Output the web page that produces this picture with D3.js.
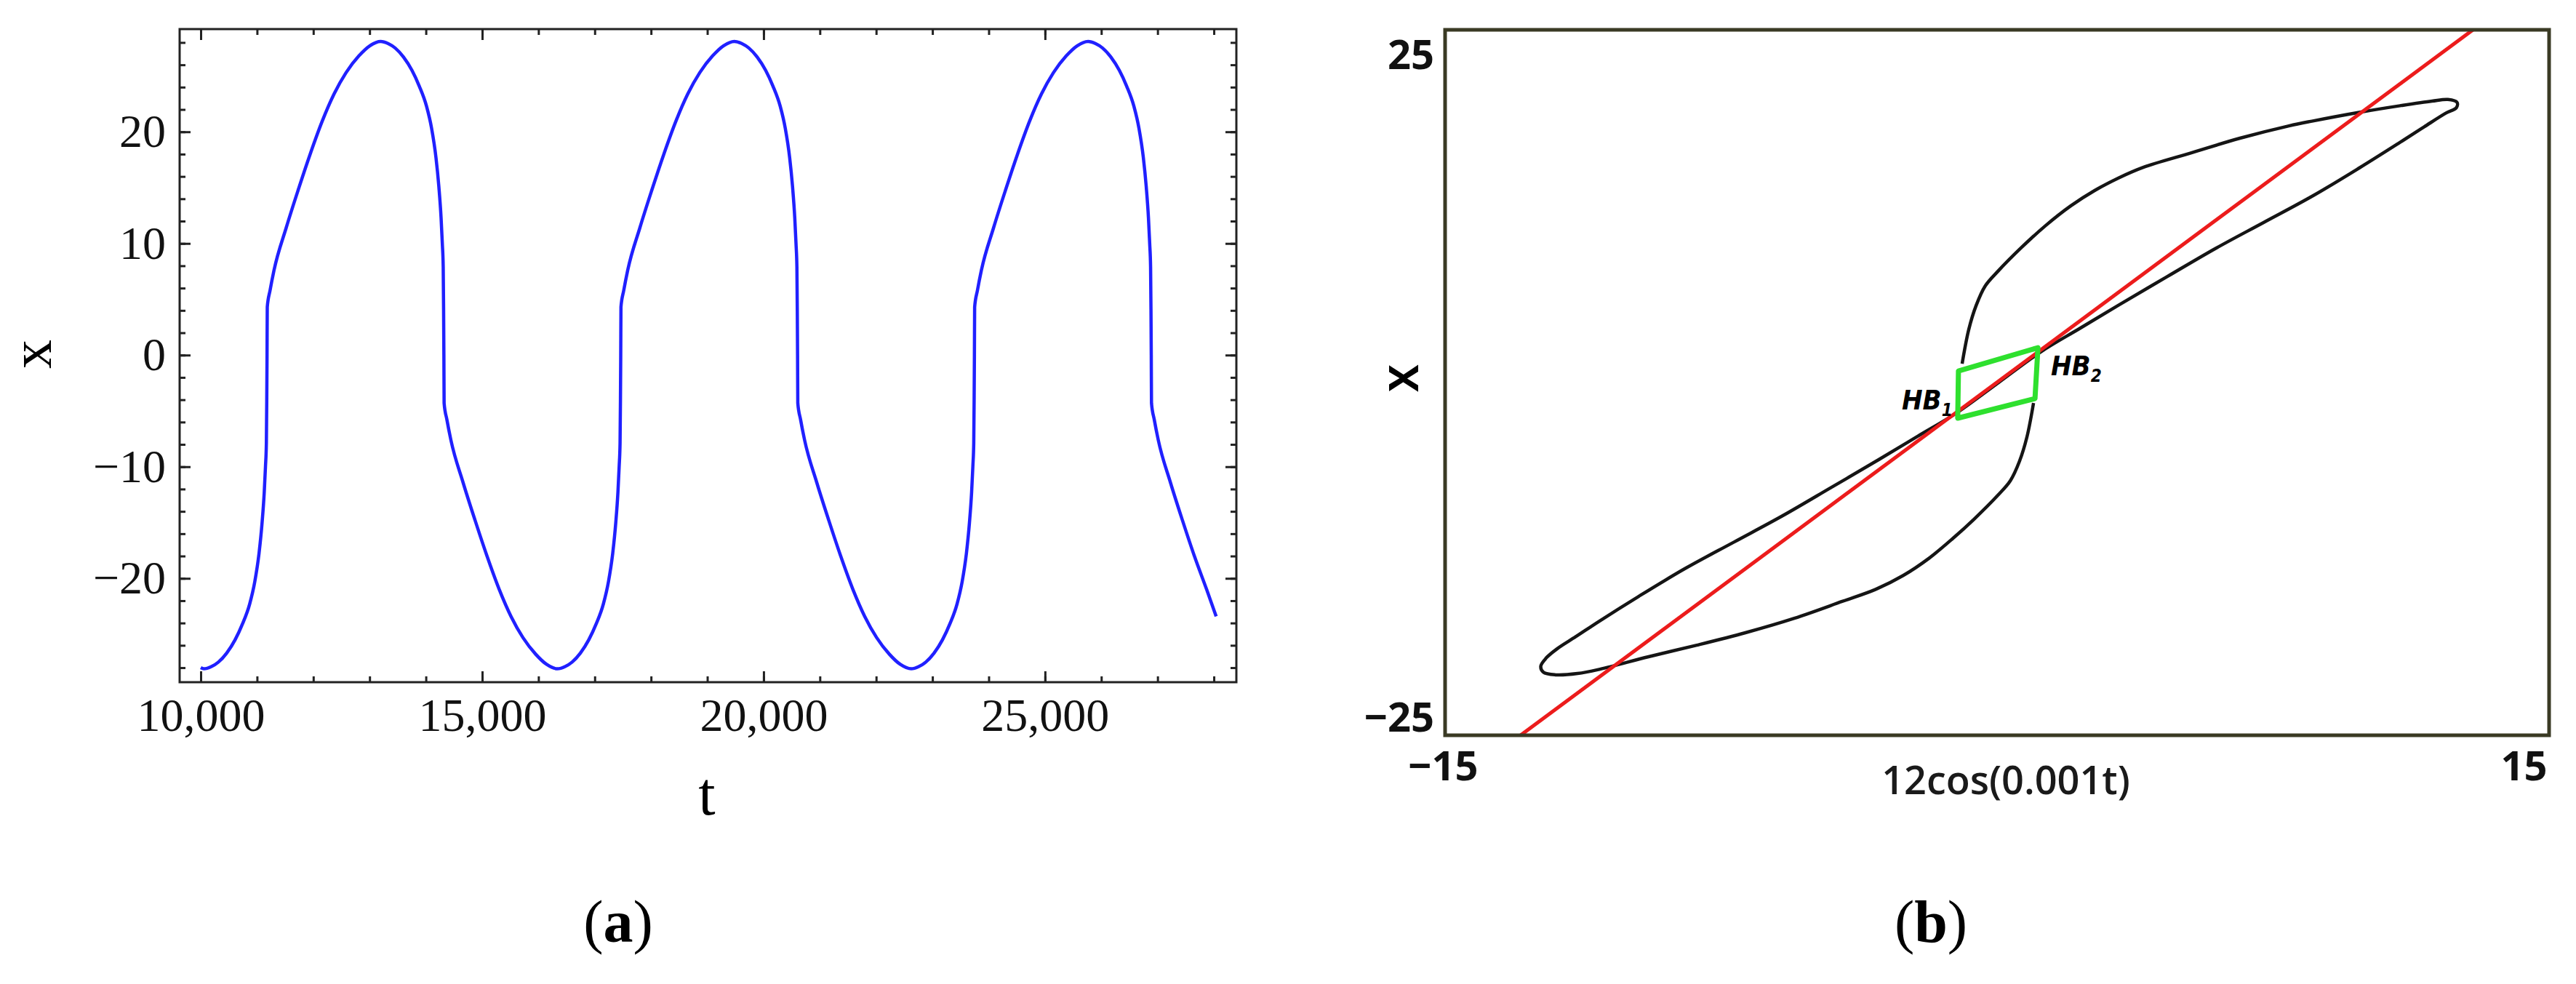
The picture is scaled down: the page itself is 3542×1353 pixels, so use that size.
<!DOCTYPE html>
<html>
<head>
<meta charset="utf-8">
<script src="https://cdn.jsdelivr.net/npm/d3@7"></script>
<style>
  body { margin: 0; background: #fff; }
  svg { display: block; }
</style>
</head>
<body>
<div id="chart"></div>
<script>

// panel (a): x against t
var timeT = [10000, 10055, 10190, 10314, 10460, 10611, 10740, 10869, 10960, 11037, 11090, 11128, 11150, 11166, 11173, 11178,
  11182, 11232, 11302, 11518, 11732, 11944, 12162, 12370, 12582, 12810, 13002, 13197, 13332, 13456, 13602, 13753, 13882, 14011, 14102, 14179, 14232, 14270, 14292, 14308, 14315, 14320,
  14324, 14374, 14444, 14660, 14874, 15086, 15304, 15512, 15724, 15952, 16144, 16339, 16474, 16598, 16744, 16895, 17024, 17153, 17244, 17321, 17374, 17412, 17434, 17450, 17457, 17462,
  17466, 17516, 17586, 17802, 18016, 18228, 18446, 18654, 18866, 19094, 19286, 19481, 19616, 19740, 19886, 20037, 20166, 20295, 20386, 20463, 20516, 20554, 20576, 20592, 20599, 20604,
  20608, 20658, 20728, 20944, 21158, 21370, 21588, 21796, 22008, 22236, 22428, 22623, 22758, 22882, 23028, 23179, 23308, 23437, 23528, 23605, 23658, 23696, 23718, 23734, 23741, 23746,
  23750, 23800, 23870, 24086, 24300, 24512, 24730, 24938, 25150, 25378, 25570, 25765, 25900, 26024, 26170, 26321, 26450, 26579, 26670, 26747, 26800, 26838, 26860, 26876, 26883, 26888,
  26892, 26942, 27012, 27228, 27442, 27654, 27872, 28041]
var timeX = [-28.0, -28.1, -27.9, -27.5, -26.7, -25.5, -24.1, -22.3, -20.3, -17.7, -15.0, -12.3, -10.0, -7.9, -4.0, 0.0,
  4.3, 5.8, 7.6, 11.4, 14.8, 18.0, 21.0, 23.4, 25.3, 26.8, 27.7, 28.1, 27.9, 27.5, 26.7, 25.5, 24.1, 22.3, 20.3, 17.7, 15.0, 12.3, 10.0, 7.9, 4.0, 0.0,
  -4.3, -5.8, -7.6, -11.4, -14.8, -18.0, -21.0, -23.4, -25.3, -26.8, -27.7, -28.1, -27.9, -27.5, -26.7, -25.5, -24.1, -22.3, -20.3, -17.7, -15.0, -12.3, -10.0, -7.9, -4.0, 0.0,
  4.3, 5.8, 7.6, 11.4, 14.8, 18.0, 21.0, 23.4, 25.3, 26.8, 27.7, 28.1, 27.9, 27.5, 26.7, 25.5, 24.1, 22.3, 20.3, 17.7, 15.0, 12.3, 10.0, 7.9, 4.0, 0.0,
  -4.3, -5.8, -7.6, -11.4, -14.8, -18.0, -21.0, -23.4, -25.3, -26.8, -27.7, -28.1, -27.9, -27.5, -26.7, -25.5, -24.1, -22.3, -20.3, -17.7, -15.0, -12.3, -10.0, -7.9, -4.0, 0.0,
  4.3, 5.8, 7.6, 11.4, 14.8, 18.0, 21.0, 23.4, 25.3, 26.8, 27.7, 28.1, 27.9, 27.5, 26.7, 25.5, 24.1, 22.3, 20.3, 17.7, 15.0, 12.3, 10.0, 7.9, 4.0, 0.0,
  -4.3, -5.8, -7.6, -11.4, -14.8, -18.0, -21.0, -23.4]
var tMajorTicks = [10000, 15000, 20000, 25000]
var xMajorTicks = [-20, -10, 0, 10, 20]

// panel (b): x against the forcing 12cos(0.001t)
// one pass: upper steep part -> upper lobe -> HB2 -> HB1 -> lower lobe -> lower steep part
var loopF = [-0.95, -0.77, -0.57, -0.32, 0.02, 0.67, 1.32, 2.00, 2.65, 3.30, 3.97, 5.28, 6.60, 7.93, 8.58, 9.84, 10.95, 11.82, 12.25, 12.50, 12.48,
  12.20, 11.60, 10.90, 9.84, 8.58, 7.25, 5.95, 4.62, 3.30, 2.25, 1.21, 0.05,
  -1.11, -2.15, -3.20, -4.52, -5.85, -7.15, -8.48, -9.74, -10.80, -11.45, -11.95, -12.25, -12.40,
  -12.33, -12.00, -11.40, -10.79, -9.47, -8.16, -6.84, -5.51, -4.21, -3.30, -2.55, -1.85, -1.20, -0.63, 0.02, 0.36, 0.61, 0.81, 0.99]
var loopX = [1.78, 4.36, 6.17, 7.66, 8.75, 10.57, 12.21, 13.69, 14.85, 15.80, 16.60, 17.70, 18.80, 19.73, 20.10, 20.75, 21.25, 21.60, 21.72, 21.50, 21.10,
  20.70, 19.65, 18.40, 16.55, 14.45, 12.45, 10.50, 8.35, 6.20, 4.45, 2.72, 0.38,
  -1.95, -3.68, -5.43, -7.58, -9.73, -11.68, -13.68, -15.78, -17.63, -18.82, -19.72, -20.42, -21.05,
  -21.50, -21.70, -21.60, -21.27, -20.33, -19.46, -18.52, -17.43, -16.16, -15.25, -14.20, -12.90, -11.40, -9.96, -8.15, -7.05, -5.57, -3.76, -1.18]
var hopfF = [-1.05, 1.11, 1.03, -1.07]
var hopfX = [1.23, 2.99, -0.85, -2.33]
var redF = [-12.95, 12.93]
var redX = [-26.26, 26.98]
var forceTicks = [-15, 15]
var bTicks = [-25, 25]

var svg = d3.select("#chart")
  .append("svg")
  .attr("width", 3542)
  .attr("height", 1353)

var serif = "'Liberation Serif', 'Times New Roman', serif"
var sans = "'Open Sans', 'Noto Sans', sans-serif"

// ---------- panel (a) ----------
var a = { left: 247, right: 1700, top: 40, bottom: 938 }

var xA = d3.scaleLinear().domain([9625, 28400]).range([a.left, a.right])
var yA = d3.scaleLinear().domain([-29.3, 29.2]).range([a.bottom, a.top])

function styleTicks(g) {
  g.select(".domain").remove()
  g.selectAll(".tick line").attr("stroke", "#222").attr("stroke-width", 3)
  g.selectAll("text").attr("fill", "#111").style("font-family", serif).style("font-size", "64px")
}

// minor ticks, all four sides
svg.append("g").attr("transform", "translate(0," + a.bottom + ")")
  .call(d3.axisBottom(xA).tickValues(d3.range(10000, 28001, 1000)).tickSize(-8).tickFormat(""))
  .call(styleTicks)
svg.append("g").attr("transform", "translate(0," + a.top + ")")
  .call(d3.axisTop(xA).tickValues(d3.range(10000, 28001, 1000)).tickSize(-8).tickFormat(""))
  .call(styleTicks)
svg.append("g").attr("transform", "translate(" + a.left + ",0)")
  .call(d3.axisLeft(yA).tickValues(d3.range(-28, 29, 2)).tickSize(-8).tickFormat(""))
  .call(styleTicks)
svg.append("g").attr("transform", "translate(" + a.right + ",0)")
  .call(d3.axisRight(yA).tickValues(d3.range(-28, 29, 2)).tickSize(-8).tickFormat(""))
  .call(styleTicks)

// major ticks
svg.append("g").attr("transform", "translate(0," + a.bottom + ")")
  .call(d3.axisBottom(xA).tickValues(tMajorTicks).tickSize(-15).tickFormat(d3.format(",")))
  .call(styleTicks)
  .selectAll("text").attr("y", 67).attr("dy", null)
svg.append("g").attr("transform", "translate(0," + a.top + ")")
  .call(d3.axisTop(xA).tickValues(tMajorTicks).tickSize(-15).tickFormat(""))
  .call(styleTicks)
svg.append("g").attr("transform", "translate(" + a.left + ",0)")
  .call(d3.axisLeft(yA).tickValues(xMajorTicks).tickSize(-15).tickPadding(19))
  .call(styleTicks)
svg.append("g").attr("transform", "translate(" + a.right + ",0)")
  .call(d3.axisRight(yA).tickValues(xMajorTicks).tickSize(-15).tickFormat(""))
  .call(styleTicks)

svg.append("rect")
  .attr("x", a.left).attr("y", a.top)
  .attr("width", a.right - a.left).attr("height", a.bottom - a.top)
  .attr("fill", "none").attr("stroke", "#222").attr("stroke-width", 3)

var lineA = d3.line()
  .x(function(d) { return xA(d[0]) })
  .y(function(d) { return yA(d[1]) })
  .curve(d3.curveMonotoneX)

svg.append("path")
  .datum(d3.zip(timeT, timeX))
  .attr("d", lineA)
  .attr("fill", "none")
  .attr("stroke", "#2020ff")
  .attr("stroke-width", 4.5)

svg.append("text")
  .attr("transform", "translate(70,487) rotate(-90)")
  .attr("text-anchor", "middle")
  .style("font-family", serif).style("font-size", "80px")
  .text("x")

svg.append("text")
  .attr("x", 972).attr("y", 1120)
  .attr("text-anchor", "middle")
  .style("font-family", serif).style("font-size", "84px")
  .text("t")

// ---------- panel (b) ----------
var b = { left: 1987, right: 3505, top: 41, bottom: 1011 }

var xB = d3.scaleLinear().domain([-15, 15]).range([b.left, b.right])
var yB = d3.scaleLinear().domain([-26.26, 26.98]).range([b.bottom, b.top])

svg.append("clipPath").attr("id", "clipB")
  .append("rect")
  .attr("x", b.left).attr("y", b.top)
  .attr("width", b.right - b.left).attr("height", b.bottom - b.top)

var plotB = svg.append("g").attr("clip-path", "url(#clipB)")

var lineB = d3.line()
  .x(function(d) { return xB(d[0]) })
  .y(function(d) { return yB(d[1]) })

plotB.append("path")
  .datum(d3.zip(loopF, loopX))
  .attr("d", lineB.curve(d3.curveCatmullRom.alpha(0.5)))
  .attr("fill", "none")
  .attr("stroke", "#151515")
  .attr("stroke-width", 4.5)

plotB.append("path")
  .datum(d3.zip(redF, redX))
  .attr("d", lineB.curve(d3.curveLinear))
  .attr("fill", "none")
  .attr("stroke", "#ec1c1c")
  .attr("stroke-width", 5)

plotB.append("path")
  .datum(d3.zip(hopfF, hopfX))
  .attr("d", lineB.curve(d3.curveLinearClosed))
  .attr("fill", "none")
  .attr("stroke", "#2ee02e")
  .attr("stroke-width", 7)
  .attr("stroke-linejoin", "round")

svg.append("rect")
  .attr("x", b.left).attr("y", b.top)
  .attr("width", b.right - b.left).attr("height", b.bottom - b.top)
  .attr("fill", "none").attr("stroke", "#3a3a24").attr("stroke-width", 5)

svg.append("g").attr("transform", "translate(" + b.left + ",0)")
  .call(d3.axisLeft(yB).tickValues(bTicks).tickSize(0).tickPadding(15))
  .call(function(g) {
    g.select(".domain").remove()
    g.selectAll("text").attr("fill", "#111")
      .style("font-family", sans).style("font-size", "56px").style("font-weight", 700)
  })

svg.append("g").attr("transform", "translate(0," + b.bottom + ")")
  .call(d3.axisBottom(xB).tickValues(forceTicks).tickSize(0))
  .call(function(g) {
    g.select(".domain").remove()
    g.selectAll("text").attr("fill", "#111").attr("y", 62).attr("dy", null)
      .style("font-family", sans).style("font-size", "56px").style("font-weight", 700)
      .attr("text-anchor", function(d) { return d > 0 ? "end" : "middle" })
      .attr("dx", -3)
  })

svg.append("text")
  .attr("x", 2758).attr("y", 1092)
  .attr("text-anchor", "middle")
  .attr("fill", "#1a1a1a")
  .style("font-family", sans).style("font-size", "54px").style("font-weight", 600)
  .text("12cos(0.001t)")

svg.append("text")
  .attr("transform", "translate(1950,520) rotate(-90)")
  .attr("text-anchor", "middle")
  .style("font-family", sans).style("font-size", "56px").style("font-weight", 700)
  .text("X")

// Hopf bifurcation labels
var hbLabels = [
  { x: 2615, y: 563, sub: "1" },
  { x: 2820, y: 516, sub: "2" }
]
hbLabels.forEach(function(l) {
  var t = svg.append("text")
    .attr("x", l.x).attr("y", l.y)
    .style("font-family", "'Liberation Sans Narrow', 'DejaVu Sans Condensed', 'Liberation Sans', sans-serif")
    .style("font-stretch", "condensed")
    .style("font-style", "italic").style("font-weight", 700)
    .style("font-size", "38px")
  t.append("tspan").text("HB")
  t.append("tspan").attr("dy", 9).style("font-size", "24px").text(l.sub)
})

// ---------- captions ----------
var captions = [{ x: 850, label: "a" }, { x: 2655, label: "b" }]
captions.forEach(function(c) {
  var t = svg.append("text")
    .attr("x", c.x).attr("y", 1295)
    .attr("text-anchor", "middle")
    .style("font-family", serif).style("font-size", "82px")
  t.append("tspan").text("(")
  t.append("tspan").style("font-weight", 700).text(c.label)
  t.append("tspan").text(")")
})

</script>
</body>
</html>
